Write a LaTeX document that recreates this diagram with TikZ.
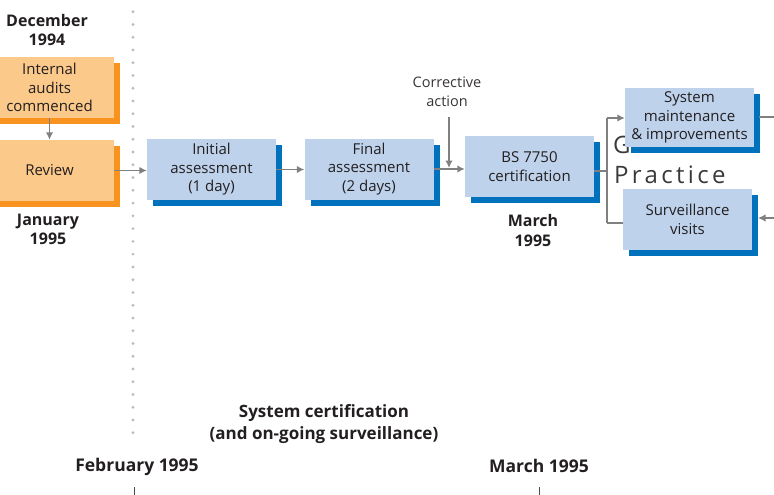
\documentclass[tikz,border=0pt]{standalone}
\usepackage{fontspec}
\setmainfont{Open Sans}
\usetikzlibrary{shadows,arrows.meta}

\definecolor{paleorange}{HTML}{FBC98A}
\definecolor{deeporange}{HTML}{F7931E}
\definecolor{paleblue}{HTML}{BED2EC}
\definecolor{deepblue}{HTML}{0071BC}
\definecolor{linegray}{HTML}{808080}
\definecolor{dotgray}{HTML}{BDBDBD}
\definecolor{inkgray}{HTML}{231F20}
\definecolor{ghostgray}{HTML}{3A3A3A}

\tikzset{
  boxbase/.style={draw=none, inner sep=0pt, align=center,
    minimum width=129pt, minimum height=61pt, text=inkgray,
    font=\fontsize{15}{18.5}\selectfont},
  orangebox/.style={boxbase, fill=paleorange,
    general shadow={fill=deeporange, shadow xshift=6pt, shadow yshift=-6pt}},
  bluebox/.style={boxbase, fill=paleblue,
    general shadow={fill=deepblue, shadow xshift=6pt, shadow yshift=-6pt}},
  datelabel/.style={align=center, inner sep=0pt, text=inkgray,
    font=\fontsize{16}{19.5}\selectfont\bfseries},
  axislabel/.style={inner sep=0pt, text=inkgray,
    font=\fontsize{17.5}{20}\selectfont\bfseries},
  notelabel/.style={align=center, inner sep=0pt, text=inkgray!90,
    font=\fontsize{14.5}{19}\selectfont},
  link/.style={draw=linegray, line width=1.8pt},
  linkarrow/.style={link, -{Latex[length=7.5pt,width=7.5pt]}},
  ghost/.style={inner sep=0pt, anchor=base west, text=ghostgray,
    font=\fontsize{24}{24}\selectfont},
}

\begin{document}
\begin{tikzpicture}[x=1pt,y=-1pt]
  \path[use as bounding box] (0,0) rectangle (774,495);

  % dotted separator between the preparation phase and certification
  \foreach \i in {0,...,33}
    \fill[dotgray] (133,11.7+\i*12.76) circle (1.6pt);

  % faint background lettering
  \node[ghost] (ghostg) at (613,153) {G};
  \node[ghost] (ghostp) at (614,183) {\addfontfeature{LetterSpace=14}Practice};

  % preparation phase
  \node[orangebox] (audits) at (49.5,87.5) {Internal\\audits\\commenced};
  \node[orangebox] (review) at (49.5,170.5) {Review};

  % certification steps
  \node[bluebox] (initial) at (211.5,169.5) {Initial\\assessment\\(1 day)};
  \node[bluebox] (final) at (369,169) {Final\\assessment\\(2 days)};
  \node[bluebox] (bs) at (529.5,166.5) {BS 7750\\certification};
  \node[bluebox, minimum height=59pt] (maint) at (689.5,117.5)
    {System\\maintenance\\\& improvements};
  \node[bluebox] (surv) at (687.5,219.5) {Surveillance\\visits};

  % dates and captions
  \node[datelabel] (dec) at (47,30) {December\\1994};
  \node[datelabel] (jan) at (48,229.5) {January\\1995};
  \node[datelabel] (mar) at (533,230.5) {March\\1995};
  \node[datelabel, font=\fontsize{17}{22}\selectfont\bfseries] (phase) at (324,424)
    {System certification\\(and on-going surveillance)};
  \node[axislabel] (feb) at (137,467) {February 1995};
  \node[axislabel] (marax) at (539,466) {March 1995};
  \node[notelabel] (corr) at (447,91.5) {Corrective\\action};

  % connectors
  \draw[linkarrow] (audits.south) -- (review.north);
  \draw[linkarrow] (review.east) -- (initial.west |- review.east);
  \draw[linkarrow] (initial.east) -- (final.west |- initial.east);
  \draw[linkarrow] (final.east) -- (final.east -| bs.west);
  \coordinate (cadrop) at (449,168);
  \draw[linkarrow] (449,117) -- (cadrop);

  \coordinate (split) at (607,171);
  \coordinate (splittop) at (607,118);
  \coordinate (splitbot) at (607,223);
  \draw[link] (bs.east |- split) -- (split);
  \draw[link] (splittop) -- (splitbot);
  \draw[linkarrow] (splittop) -- (maint.west |- splittop);
  \draw[link] (splitbot) -- (surv.west |- splitbot);

  \coordinate (outtop) at (774,117);
  \coordinate (inbot) at (774,218);
  \draw[link] (759,117) -- (outtop);
  \draw[linkarrow] (inbot) -- (758,218);

  % timeline ticks
  \coordinate (tickfeb) at (134,487);
  \coordinate (tickmar) at (539,487);
  \draw[linegray!60!black, line width=1pt] (tickfeb) -- (134,495);
  \draw[linegray!60!black, line width=1pt] (tickmar) -- (539,495);
\end{tikzpicture}
\end{document}
